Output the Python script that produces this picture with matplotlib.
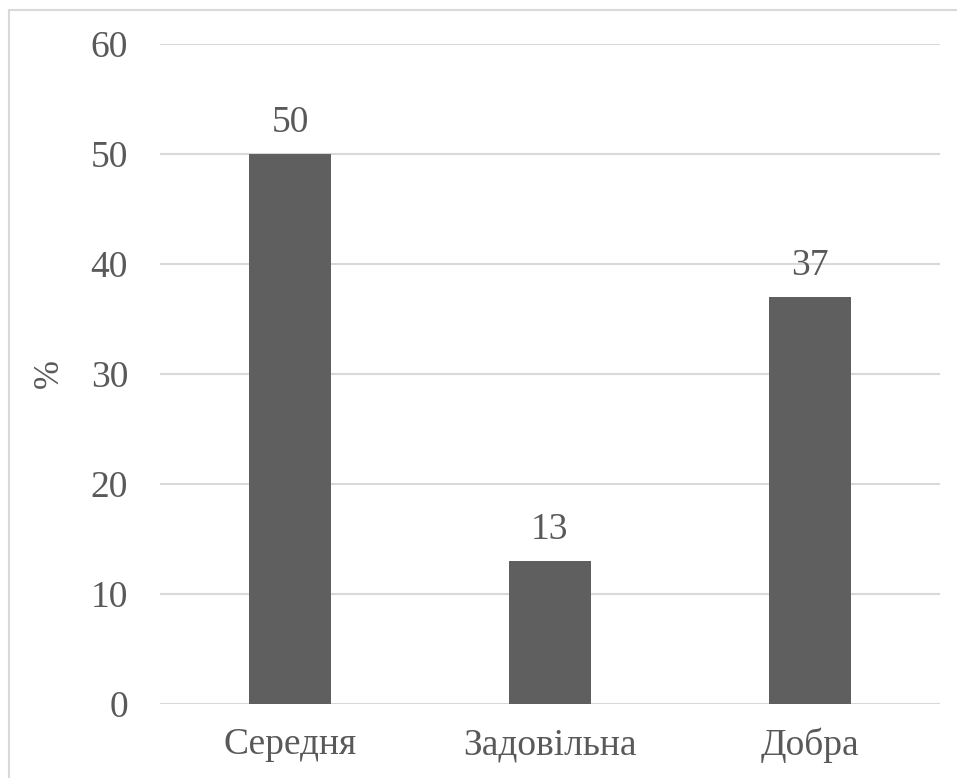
import matplotlib.pyplot as plt
from matplotlib.patches import Rectangle

categories = ['Середня', 'Задовільна', 'Добра']
values = [50, 13, 37]
yticks = [0, 10, 20, 30, 40, 50, 60]

plt.rcParams['font.family'] = ['Liberation Serif', 'DejaVu Serif']
text_color = '#595959'

fig = plt.figure(figsize=(9.57, 7.78), dpi=100)
ax = fig.add_axes([160 / 957, 1 - 704 / 778, 780 / 957, 660 / 778])

x = range(len(categories))
ax.bar(x, values, width=0.315, color='#5f5f5f', zorder=3)
for i, v in zip(x, values):
    ax.text(i, v + 1.3, str(v), ha='center', va='bottom', fontsize=27, color=text_color)

ax.set_xlim(-0.5, len(categories) - 0.5)
ax.set_ylim(0, 60)
ax.set_yticks(yticks)
ax.set_xticks(list(x))
ax.set_xticklabels(categories)
ax.tick_params(axis='both', length=0, labelsize=27, colors=text_color)
ax.tick_params(axis='y', pad=23)
ax.tick_params(axis='x', pad=17)
ax.grid(axis='y', color='#d9d9d9', linewidth=1.5, zorder=0)
for s in ax.spines.values():
    s.set_visible(False)
ax.set_ylabel('%', fontsize=25, color=text_color, labelpad=18)

fig.patches.append(Rectangle((9 / 957, -0.1), 1.2, 1 - 10 / 778 + 0.1,
                             transform=fig.transFigure, fill=False,
                             edgecolor='#d9d9d9', linewidth=1.5))

fig.savefig('out.png', dpi=100)
